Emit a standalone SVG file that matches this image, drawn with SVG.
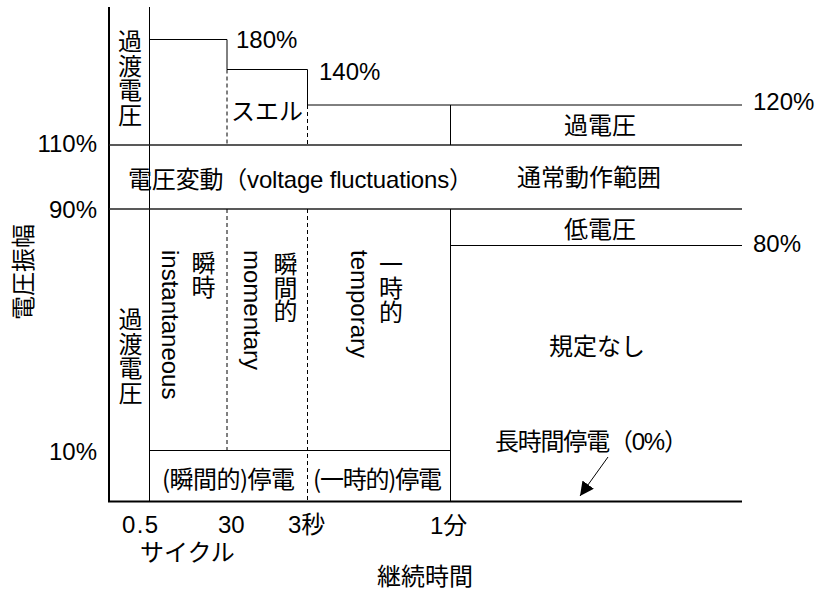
<svg xmlns="http://www.w3.org/2000/svg" width="817" height="592" viewBox="0 0 817 592">
<style>
.t{font-family:'Liberation Sans','Noto Sans CJK JP',sans-serif;font-size:24px;fill:#000}
.j{font-family:'Noto Sans CJK JP',sans-serif;font-size:24px;fill:#000}
.m{text-anchor:middle}
.e{text-anchor:end}
.ln{stroke:#000;stroke-width:1;fill:none}
.ax{stroke:#000;stroke-width:2;fill:none}
.mid{stroke:#222;stroke-width:1.5;fill:none}
.d{stroke:#000;stroke-width:1;stroke-dasharray:4 3;fill:none}
</style>
<defs>
<marker id="ah" viewBox="0 0 10 10" refX="10" refY="5" markerWidth="14" markerHeight="14" markerUnits="userSpaceOnUse" orient="auto">
<path d="M0,0 L10,5 L0,10 z" fill="#000"/>
</marker>
</defs>
<rect width="817" height="592" fill="#fff"/>
<g id="frame">
<line class="ax" x1="109" y1="7" x2="109" y2="502"/>
<line class="ax" x1="108" y1="501.5" x2="742" y2="501.5"/>
<line class="ln" x1="149.5" y1="7" x2="149.5" y2="501"/>
<polyline class="ln" points="149.5,39.5 227,39.5 227,69.5 307.5,69.5 307.5,105 742,105"/>
<line class="mid" x1="109" y1="145" x2="742" y2="145"/>
<line class="mid" x1="109" y1="209" x2="742" y2="209"/>
<line class="ln" x1="450.5" y1="105" x2="450.5" y2="145"/>
<line class="ln" x1="450.5" y1="209" x2="450.5" y2="501"/>
<line class="ln" x1="450.5" y1="245.5" x2="742" y2="245.5"/>
<line class="ln" x1="149.5" y1="450.5" x2="450.5" y2="450.5"/>
<line class="d" x1="227" y1="69.5" x2="227" y2="145"/>
<line class="d" x1="227" y1="209" x2="227" y2="450"/>
<line class="d" x1="307.5" y1="105" x2="307.5" y2="145"/>
<line class="d" x1="307.5" y1="209" x2="307.5" y2="501"/>
</g>
<g id="connectors">
<line class="ln" x1="608" y1="457" x2="580" y2="496" marker-end="url(#ah)"/>
</g>
<g id="levels">
<text class="t" x="236" y="48">180%</text>
<text class="t" x="319" y="80">140%</text>
<text class="t" x="753" y="110">120%</text>
<text class="t" x="753" y="252">80%</text>
<text class="t e" x="97" y="152">110%</text>
<text class="t e" x="97" y="218">90%</text>
<text class="t e" x="97" y="460">10%</text>
</g>
<g id="transient-top">
<text class="j m" x="130 130 130 130" y="50 74.5 99 123.5">過渡電圧</text>
</g>
<g id="swell">
<text class="j" x="231" y="120">スエル</text>
</g>
<g id="overvoltage">
<text class="j m" x="600" y="134">過電圧</text>
</g>
<g id="fluctuations">
<text class="t" x="128" y="188" textLength="345" lengthAdjust="spacing">電圧変動（voltage fluctuations）</text>
</g>
<g id="normal">
<text class="j" x="517" y="186">通常動作範囲</text>
</g>
<g id="undervoltage">
<text class="j m" x="600" y="238">低電圧</text>
</g>
<g id="transient-bottom">
<text class="j m" x="130.5 130.5 130.5 130.5" y="328 352.5 377 401.5">過渡電圧</text>
</g>
<g id="instantaneous">
<text class="j m" x="203.5 203.5" y="272 296">瞬時</text>
<text class="t" transform="translate(162,250) rotate(90)">instantaneous</text>
</g>
<g id="momentary">
<text class="j m" x="285.5 285.5 285.5" y="273 296.5 320">瞬間的</text>
<text class="t" transform="translate(244,250) rotate(90)">momentary</text>
</g>
<g id="temporary">
<text class="j m" x="391 391 391" y="273 297 321">一時的</text>
<text class="t" transform="translate(351,250) rotate(90)">temporary</text>
</g>
<g id="unspecified">
<text class="j m" x="597" y="355">規定なし</text>
</g>
<g id="interruptions">
<text class="j" x="162" y="488" textLength="133" lengthAdjust="spacing">(瞬間的)停電</text>
<text class="j" x="313" y="488" textLength="129" lengthAdjust="spacing">(一時的)停電</text>
</g>
<g id="sustained">
<text class="t" x="495" y="450" textLength="193" lengthAdjust="spacing">長時間停電（0%）</text>
</g>
<g id="axes-labels">
<text class="t" x="122" y="533" textLength="36" lengthAdjust="spacing">0.5</text>
<text class="t" x="218" y="533">30</text>
<text class="t" x="288" y="533">3秒</text>
<text class="t" x="430" y="534">1分</text>
<text class="t" x="140" y="561">サイクル</text>
<text class="t" x="377" y="585">継続時間</text>
<text class="j m" transform="translate(32,272) rotate(-90)">電圧振幅</text>
</g>
</svg>
